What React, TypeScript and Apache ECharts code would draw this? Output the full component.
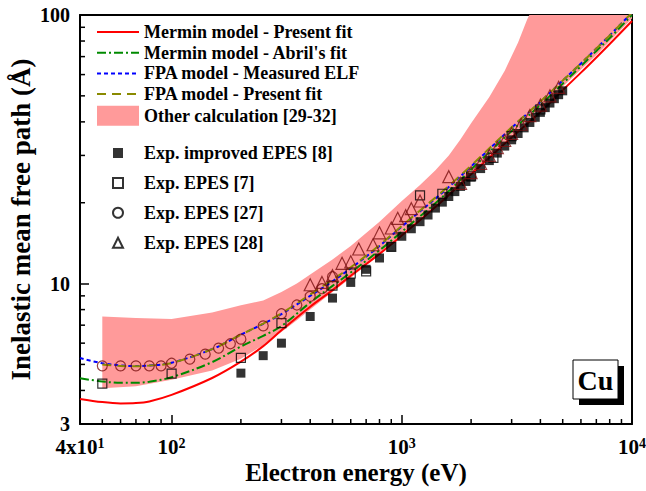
import React, { useEffect, useRef } from 'react';
import * as echarts from 'echarts';

const FONT = '"Liberation Serif", "Times New Roman", serif';

// Curves (energy in eV, IMFP in Å)
const energyCurve = [40, 50, 60, 70, 80, 100, 150, 200, 250, 300, 400, 500, 600, 800, 1000, 1500, 2000, 3000, 4000, 5000, 6000, 7000, 8000, 10000];
const merminPresent = [3.72, 3.62, 3.58, 3.59, 3.64, 3.85, 4.45, 5.12, 5.85, 6.7, 8.2, 9.45, 10.7, 12.9, 15.1, 20.3, 25.5, 35.0, 43.5, 52.5, 61, 69.5, 78, 95];
const merminAbril = [4.44, 4.32, 4.27, 4.27, 4.31, 4.48, 5.1, 5.83, 6.39, 6.95, 8.5, 9.8, 11.0, 13.3, 15.6, 21.0, 26.6, 37.0, 46.3, 55.5, 64.5, 73.5, 82, 100];
const fpaMeasured = [5.28, 5.05, 4.96, 4.93, 4.95, 5.07, 5.7, 6.45, 7.08, 7.7, 9.0, 10.2, 11.4, 13.8, 16.3, 21.8, 27.3, 38.0, 47.5, 57, 66, 75, 84, 102];
const fpaPresent = [null, 5.0, 4.93, 4.92, 4.95, 5.06, 5.7, 6.45, 7.1, 7.75, 9.1, 10.35, 11.5, 13.9, 16.4, 22.0, 27.5, 38.2, 47.6, 57, 66, 75, 84, 102];

// Other calculation band
const bandE = [50, 70, 100, 150, 200, 250, 300, 350, 400, 500, 600, 800, 1000, 1200, 1400, 1600, 1800, 2000, 2400, 2800, 3200, 3500, 4000, 5000, 7000, 10000];
const bandLow = [4.08, 4.15, 4.38, 4.75, 5.25, 5.9, 6.6, 7.3, 8.0, 9.3, 10.5, 12.9, 15.0, 17.2, 19.3, 21.4, 23.5, 25.5, 29.5, 33.5, 37.5, 40.5, 45, 54, 71, 97];
const bandHigh = [7.54, 7.45, 7.38, 7.8, 8.3, 8.65, 9.3, 10.0, 10.8, 12.3, 13.8, 17.0, 20.3, 23.3, 26.4, 30.0, 34.5, 39.5, 49.5, 62, 79, 96, 122, 160, 220, 300];

// Experimental points
const improvedE = [200, 250, 300, 400, 500, 600, 700, 800, 900, 1000, 1100, 1200, 1300, 1400, 1500, 1600, 1700, 1800, 1900, 2000, 2200, 2400, 2600, 2800, 3000, 3200, 3400, 3600, 3800, 4000, 4200, 4400, 4600, 4800, 5000];
const improvedL = [4.64, 5.39, 6.0, 7.54, 8.83, 10.1, 11.3, 12.45, 13.7, 15.0, 16.0, 17.0, 18.0, 19.1, 20.1, 21.1, 22.0, 23.0, 24.0, 24.9, 26.8, 28.7, 30.6, 32.5, 34.3, 36.2, 38.0, 39.8, 41.6, 43.4, 45.2, 47.0, 48.8, 50.5, 52.2];
const epes7E = [50, 100, 200, 300, 500, 600, 700, 900, 1200, 1500, 2000, 2500, 3000, 4000];
const epes7L = [4.24, 4.62, 5.29, 7.13, 9.82, 10.9, 11.1, 13.7, 21.3, 21.6, 25.1, 29.4, 35.4, 44.5];
const epes27E = [50, 60, 70, 80, 90, 100, 120, 140, 160, 180, 200, 250, 300, 350, 400, 450, 500];
const epes27L = [4.94, 4.94, 4.94, 4.94, 4.94, 5.05, 5.23, 5.46, 5.75, 5.97, 6.21, 6.96, 7.72, 8.32, 8.96, 9.57, 10.6];
const epes28E = [400, 450, 500, 550, 600, 650, 750, 800, 900, 960, 1040, 1100, 1200, 1600, 1800, 2000, 2200, 2400, 2600, 2800, 3000, 3300, 3600, 4000, 4400, 4800];
const epes28L = [9.9, 10.1, 10.7, 11.9, 12.05, 13.45, 13.95, 15.45, 16.1, 17.5, 17.9, 19.0, 20.3, 25.0, 23.6, 25.9, 28.0, 30.0, 32.1, 34.1, 36.2, 39.2, 42.2, 46.2, 50.0, 53.8];

// Axis ticks
const xMinorTicks = [50, 60, 70, 80, 90, 200, 300, 400, 500, 600, 700, 800, 900, 2000, 3000, 4000, 5000, 6000, 7000, 8000, 9000];
const yMinorTicks = [4, 5, 6, 7, 8, 9, 20, 30, 40, 50, 60, 70, 80, 90];

const X_MIN = 40, X_MAX = 10000, Y_MIN = 3, Y_MAX = 100;

const pairs = (xs: number[], ys: (number | null)[]) =>
  xs.map((x, i) => [x, ys[i]]).filter((p) => p[1] !== null);

const hiddenSymbol = { color: 'rgba(0,0,0,0)', borderWidth: 0, opacity: 0 };

export default function App() {
  const ref = useRef<HTMLDivElement>(null);
  useEffect(() => {
    const chart = echarts.init(ref.current!, null, { renderer: 'svg' });
    const lineSeries = (name: string, xs: number[], ys: (number | null)[], color: string, type: any) => ({
      type: 'line', name, data: pairs(xs, ys), symbol: 'none', showSymbol: false, smooth: 0.35, z: 3,
      lineStyle: { color, width: 2, type }, itemStyle: { color },
    });
    const legendText = { fontFamily: FONT, fontSize: 18, fontWeight: 'bold', color: '#000' };
    const option: any = {
      animation: false,
      backgroundColor: '#fff',
      textStyle: { fontFamily: FONT },
      grid: { left: 80, right: 14, top: 15, bottom: 67, containLabel: false, outerBoundsMode: 'none' },
      xAxis: [
        {
          type: 'log', min: X_MIN, max: X_MAX, logBase: 10,
          name: 'Electron energy (eV)', nameLocation: 'middle', nameGap: 36, nameMoveOverlap: false,
          nameTextStyle: { fontFamily: FONT, fontSize: 25, fontWeight: 'bold', color: '#000' },
          axisLine: { show: true, lineStyle: { color: '#000', width: 2 } },
          axisTick: { show: true, inside: true, length: 9, lineStyle: { color: '#000', width: 1.5 } },
          splitLine: { show: false }, minorTick: { show: false },
          axisLabel: {
            show: true, margin: 12, showMinLabel: true, showMaxLabel: true,
            formatter: (v: number) => {
              if (Math.abs(v - 40) < 1) return '{b|4x10}{s|1}';
              return '{b|10}{s|' + Math.round(Math.log10(v)) + '}';
            },
            rich: {
              b: { fontFamily: FONT, fontSize: 21, fontWeight: 'bold', color: '#000' },
              s: { fontFamily: FONT, fontSize: 14, fontWeight: 'bold', color: '#000', verticalAlign: 'top' },
            },
          },
        },
        {
          type: 'log', min: X_MIN, max: X_MAX, position: 'top',
          axisLine: { show: true, lineStyle: { color: '#000', width: 2 } },
          axisTick: { show: false }, axisLabel: { show: false }, splitLine: { show: false },
        },
      ],
      yAxis: [
        {
          type: 'log', min: Y_MIN, max: Y_MAX, logBase: 10,
          name: 'Inelastic mean free path (Å)', nameLocation: 'middle', nameGap: 46, nameMoveOverlap: false,
          nameTextStyle: { fontFamily: FONT, fontSize: 27, fontWeight: 'bold', color: '#000' },
          axisLine: { show: true, lineStyle: { color: '#000', width: 2 } },
          axisTick: { show: true, inside: true, length: 9, lineStyle: { color: '#000', width: 1.5 } },
          splitLine: { show: false }, minorTick: { show: false },
          axisLabel: {
            show: true, margin: 10, showMinLabel: true, showMaxLabel: true,
            fontFamily: FONT, fontSize: 20, fontWeight: 'bold', color: '#000',
            formatter: (v: number) => String(Math.round(v)),
          },
        },
        {
          type: 'log', min: Y_MIN, max: Y_MAX, position: 'right',
          axisLine: { show: true, lineStyle: { color: '#000', width: 2 } },
          axisTick: { show: false }, axisLabel: { show: false }, splitLine: { show: false },
        },
      ],
      legend: [
        {
          orient: 'vertical', left: 96, top: 23, padding: 0, itemWidth: 42, itemHeight: 20, itemGap: 2.7,
          textStyle: legendText,
          data: [
            { name: 'Mermin model - Present fit', itemStyle: hiddenSymbol },
            { name: "Mermin model - Abril's fit", itemStyle: hiddenSymbol },
            { name: 'FPA model - Measured ELF', itemStyle: hiddenSymbol },
            { name: 'FPA model - Present fit', itemStyle: hiddenSymbol },
            { name: 'Other calculation [29-32]', icon: 'rect' },
          ],
        },
        {
          orient: 'vertical', left: 112, top: 144, padding: 0, itemWidth: 10, itemHeight: 10, itemGap: 11.9,
          textStyle: { ...legendText, padding: [0, 0, 0, 16] },
          data: [
            { name: 'Exp. improved EPES [8]' },
            { name: 'Exp. EPES [7]' },
            { name: 'Exp. EPES [27]', itemStyle: { borderColor: '#000' } },
            { name: 'Exp. EPES [28]', itemStyle: { borderColor: '#000' } },
          ],
        },
      ],
      graphic: [
        { type: 'rect', shape: { x: 579, y: 366, width: 45, height: 39 }, style: { fill: '#000' }, z: 10 },
        { type: 'rect', shape: { x: 573, y: 360, width: 45, height: 39 }, style: { fill: '#fff', stroke: '#000', lineWidth: 1 }, z: 11 },
        { type: 'text', x: 595.5, y: 380, style: { text: 'Cu', align: 'center', verticalAlign: 'middle', font: 'bold 28px ' + FONT, fill: '#000' }, z: 12 },
      ],
      series: [
        {
          type: 'custom', name: 'Other calculation [29-32]', clip: true, z: 1,
          itemStyle: { color: '#ff9a9a' },
          data: bandE.map((e, i) => [e, bandLow[i], bandHigh[i]]),
          encode: { x: 0, y: [1, 2] },
          renderItem: (params: any, api: any) => {
            if (params.dataIndex !== 0) return null;
            const pts: number[][] = [];
            for (let i = 0; i < bandE.length; i++) pts.push(api.coord([bandE[i], bandHigh[i]]));
            for (let i = bandE.length - 1; i >= 0; i--) pts.push(api.coord([bandE[i], bandLow[i]]));
            return { type: 'polygon', shape: { points: pts }, style: { fill: '#ff9a9a' } };
          },
        },
        lineSeries('Mermin model - Present fit', energyCurve, merminPresent, '#ff0000', 'solid'),
        lineSeries("Mermin model - Abril's fit", energyCurve, merminAbril, '#008a00', [9, 3, 2, 3]),
        lineSeries('FPA model - Measured ELF', energyCurve, fpaMeasured, '#0000ff', [4, 3]),
        lineSeries('FPA model - Present fit', energyCurve, fpaPresent, '#8a8a00', [9, 6]),
        {
          type: 'scatter', name: 'Exp. improved EPES [8]', data: pairs(improvedE, improvedL), z: 4,
          symbol: 'rect', symbolSize: 9, itemStyle: { color: '#000' },
        },
        {
          type: 'scatter', name: 'Exp. EPES [7]', data: pairs(epes7E, epes7L), z: 4,
          symbol: 'rect', symbolSize: 9,
          itemStyle: { color: 'rgba(0,0,0,0)', borderColor: '#000', borderWidth: 1.2 },
        },
        {
          type: 'scatter', name: 'Exp. EPES [27]', data: pairs(epes27E, epes27L), z: 4,
          symbol: 'circle', symbolSize: 10,
          itemStyle: { color: 'rgba(0,0,0,0)', borderColor: '#7a1010', borderWidth: 1.2 },
        },
        {
          type: 'scatter', name: 'Exp. EPES [28]', data: pairs(epes28E, epes28L), z: 4,
          symbol: 'triangle', symbolSize: 12,
          itemStyle: { color: 'rgba(0,0,0,0)', borderColor: '#7a1010', borderWidth: 1.2 },
        },
        {
          type: 'custom', silent: true, z: 5,
          data: xMinorTicks.map((v) => [v, Y_MIN]),
          renderItem: (params: any, api: any) => {
            const p = api.coord([api.value(0), Y_MIN]);
            return { type: 'line', shape: { x1: p[0], y1: p[1], x2: p[0], y2: p[1] - 5 }, style: { stroke: '#000', lineWidth: 1.5 } };
          },
        },
        {
          type: 'custom', silent: true, z: 5,
          data: yMinorTicks.map((v) => [X_MIN, v]),
          renderItem: (params: any, api: any) => {
            const p = api.coord([X_MIN, api.value(1)]);
            return { type: 'line', shape: { x1: p[0], y1: p[1], x2: p[0] + 5, y2: p[1] }, style: { stroke: '#000', lineWidth: 1.5 } };
          },
        },
      ],
    };
    chart.setOption(option);
    return () => chart.dispose();
  }, []);
  return <div ref={ref} style={{ position: 'fixed', left: 0, top: 0, width: 646, height: 491, background: '#fff' }} />;
}
